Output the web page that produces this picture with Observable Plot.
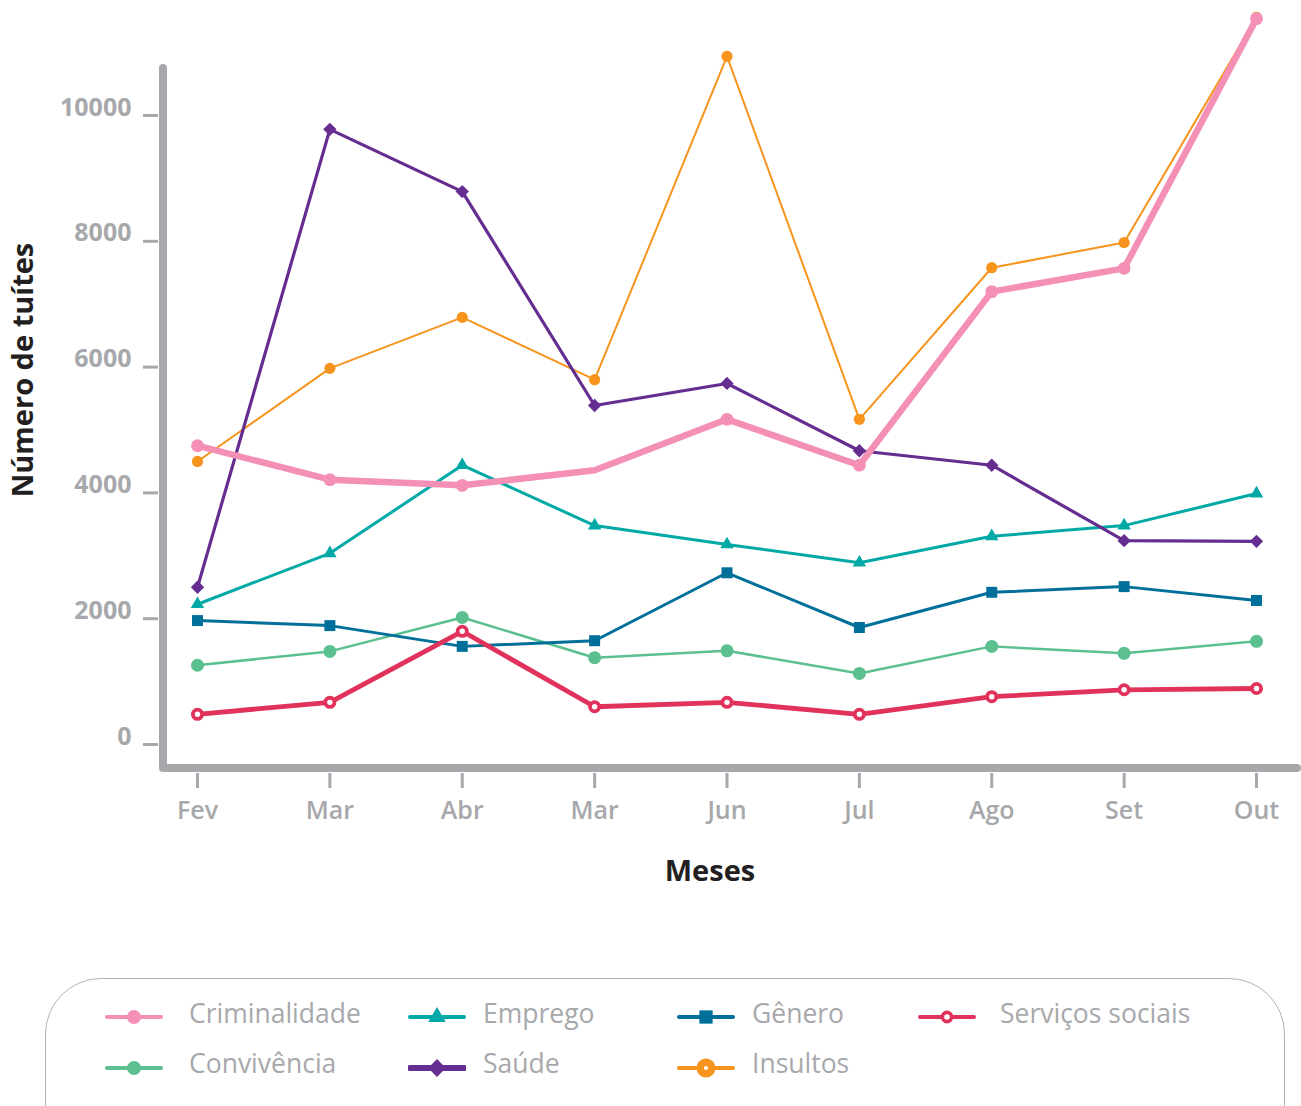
<!DOCTYPE html>
<html>
<head>
<meta charset="utf-8">
<script src="https://cdn.jsdelivr.net/npm/d3@7"></script>
<script src="https://cdn.jsdelivr.net/npm/@observablehq/plot@0.6"></script>
<style>
  body { margin: 0; background: #fff; font-family: "Open Sans", sans-serif; }
  #pagina { position: relative; width: 1301px; height: 1106px; overflow: hidden; }
  #legenda {
    position: absolute; left: 45px; top: 978px; width: 1240px; height: 200px;
    border: 1.5px solid #b3b3b5; border-radius: 56px; box-sizing: border-box;
  }
  .amostra, .rotulo { position: absolute; transform: translateY(-50%); }
  .amostra { display: block; }
  .rotulo { font-size: 26.5px; color: #a7a8ab; white-space: nowrap; line-height: 1.2; }
</style>
</head>
<body>
<div id="pagina"></div>
<script>
// Meses (há dois "Mar" na série original)
const meses = ["Fev", "Mar", "Abr", "Mar", "Jun", "Jul", "Ago", "Set", "Out"];

// Número de tuítes por tema
const criminalidade   = [4750, 4210, 4120, 4360, 5170, 4440, 7200, 7570, 11540];
const insultos        = [4500, 5980, 6790, 5800, 10940, 5170, 7580, 7980, 11560];
const saude           = [2500, 9780, 8790, 5390, 5740, 4670, 4440, 3240, 3230];
const emprego         = [2230, 3040, 4440, 3480, 3180, 2890, 3310, 3480, 3990];
const genero          = [1970, 1890, 1560, 1650, 2730, 1860, 2420, 2510, 2290];
const convivencia     = [1260, 1480, 2020, 1380, 1490, 1130, 1560, 1450, 1640];
const servicosSociais = [480, 670, 1800, 600, 670, 480, 760, 870, 890];

// Meses de Criminalidade sem marcador (apenas a linha)
const criminalidadeSemMarcador = [3];

const ticksY = [0, 2000, 4000, 6000, 8000, 10000];

// Estilo de cada série (ordem de desenho: de baixo para cima)
const series = [
  { nome: "Insultos",         valores: insultos,        cor: "#f7941d", simbolo: "circle",   linha: 2,   r: 5.6 },
  { nome: "Convivência",      valores: convivencia,     cor: "#5bbf8f", simbolo: "circle",   linha: 2.5, r: 6.5 },
  { nome: "Gênero",           valores: genero,          cor: "#00709b", simbolo: "square",   linha: 3,   r: 6.2 },
  { nome: "Emprego",          valores: emprego,         cor: "#00a9a5", simbolo: "triangle", linha: 3,   r: 5 },
  { nome: "Saúde",            valores: saude,           cor: "#662d91", simbolo: "diamond2", linha: 3.2, r: 6 },
  { nome: "Serviços sociais", valores: servicosSociais, cor: "#e0325a", simbolo: "circle",   linha: 4.8, r: 4.6, vazado: true },
  { nome: "Criminalidade",    valores: criminalidade,   cor: "#f48fb6", simbolo: "circle",   linha: 6.5, r: 6.4, pular: criminalidadeSemMarcador }
];

const cinza = "#a7a8ab";
const W = 1301, H = 900;
const mL = 163, mR = 4, mT = 68, mB = 132;

const marcas = [];
for (const s of series) {
  const dados = s.valores.map((v, i) => ({ i, v }));
  marcas.push(Plot.line(dados, {
    x: "i", y: "v", stroke: s.cor, strokeWidth: s.linha,
    strokeLinejoin: "round", strokeLinecap: "round"
  }));
  const pontos = dados.filter(d => !(s.pular || []).includes(d.i));
  marcas.push(Plot.dot(pontos, s.vazado
    ? { x: "i", y: "v", r: s.r, fill: "#fff", stroke: s.cor, strokeWidth: 3.8 }
    : { x: "i", y: "v", r: s.r, fill: s.cor, stroke: "none", symbol: s.simbolo }));
}

const indicesMeses = d3.range(meses.length);

const chart = Plot.plot({
  width: W, height: H,
  marginLeft: mL, marginRight: mR, marginTop: mT, marginBottom: mB,
  x: { domain: [0, 8], range: [197, 1256] },
  y: { domain: [0, 10000], range: [744, 115] },
  style: { fontFamily: "Open Sans, sans-serif", background: "#fff", overflow: "visible" },
  marks: [
    // marcas de escala do eixo y
    Plot.axisY(ticksY, { anchor: "left", label: null, tickSize: 15, dx: -5, stroke: cinza, strokeWidth: 3, tickFormat: () => "" }),
    // rótulos do eixo y
    Plot.axisY(ticksY, {
      anchor: "left", label: null, tickSize: 0, tickPadding: 27, dx: -5, dy: -8,
      color: cinza, fontSize: 25, fontWeight: 700, tickFormat: d => String(d)
    }),
    // marcas de escala do eixo x
    Plot.axisX(indicesMeses, { anchor: "bottom", label: null, tickSize: 15, dy: 5, stroke: cinza, strokeWidth: 3, tickFormat: () => "" }),
    // rótulos do eixo x
    Plot.axisX(indicesMeses, {
      anchor: "bottom", label: null, tickSize: 0, tickPadding: 33,
      color: cinza, fontSize: 25, fontWeight: 600, tickFormat: i => meses[i]
    }),
    ...marcas
  ]
});

// Linhas dos eixos (L cinza espessa)
const svg = d3.select(chart);
svg.append("path")
  .attr("d", `M${mL},${mT}V${H - mB}H${W - mR}`)
  .attr("fill", "none").attr("stroke", cinza).attr("stroke-width", 8)
  .attr("stroke-linecap", "round").attr("stroke-linejoin", "round");

// Títulos dos eixos
svg.append("text")
  .attr("x", 710).attr("y", 873).attr("text-anchor", "middle").attr("dominant-baseline", "middle")
  .attr("font-family", "Open Sans, sans-serif").attr("font-weight", 700).attr("font-size", 29)
  .attr("fill", "#231f20").text("Meses");
svg.append("text")
  .attr("transform", "translate(25,370) rotate(-90)")
  .attr("text-anchor", "middle").attr("dominant-baseline", "middle")
  .attr("font-family", "Open Sans, sans-serif").attr("font-weight", 700).attr("font-size", 29)
  .attr("fill", "#231f20").text("Número de tuítes");

const pagina = document.getElementById("pagina");
pagina.appendChild(chart);
chart.style.position = "absolute";
chart.style.left = "0px";
chart.style.top = "0px";

// Legenda: posição de cada amostra e de cada rótulo (coordenadas da página)
const ordemLegenda = [
  ["Criminalidade", 0, 0], ["Emprego", 1, 0], ["Gênero", 2, 0], ["Serviços sociais", 3, 0],
  ["Convivência", 0, 1], ["Saúde", 1, 1], ["Insultos", 2, 1]
];
const colunasAmostra = [105, 408, 677, 918];
const colunasRotulo = [189, 483, 752, 1000];
const linhasAmostra = [1017, 1068];
const linhasRotulo = [1014, 1064];
const estiloLeg = {
  "Criminalidade":    { forma: "circle",   r: 7,   linha: 4 },
  "Convivência":      { forma: "circle",   r: 7,   linha: 4 },
  "Emprego":          { forma: "triangle", r: 6.5, linha: 4 },
  "Saúde":            { forma: "diamond2", r: 8,   linha: 6 },
  "Gênero":           { forma: "square",   r: 7.5, linha: 4 },
  "Serviços sociais": { forma: "vazado",   r: 4.6, linha: 4 },
  "Insultos":         { forma: "insultos", r: 9.5, linha: 4 }
};
const simbolos = { circle: d3.symbolCircle, triangle: d3.symbolTriangle, diamond2: d3.symbolDiamond2, square: d3.symbolSquare };

const legenda = document.createElement("div");
legenda.id = "legenda";
pagina.appendChild(legenda);
for (const [nome, c, l] of ordemLegenda) {
  const s = series.find(d => d.nome === nome);
  const e = estiloLeg[nome];
  const sw = d3.create("svg").attr("class", "amostra").attr("width", 58).attr("height", 24)
    .style("left", colunasAmostra[c] + "px").style("top", linhasAmostra[l] + "px");
  sw.append("line").attr("x1", 2).attr("x2", 56).attr("y1", 12).attr("y2", 12)
    .attr("stroke", s.cor).attr("stroke-width", e.linha).attr("stroke-linecap", "round");
  if (e.forma === "vazado") {
    sw.append("circle").attr("cx", 29).attr("cy", 12).attr("r", e.r)
      .attr("fill", "#fff").attr("stroke", s.cor).attr("stroke-width", 3.6);
  } else if (e.forma === "insultos") {
    sw.append("circle").attr("cx", 29).attr("cy", 12).attr("r", e.r).attr("fill", s.cor);
    sw.append("circle").attr("cx", 29).attr("cy", 12).attr("r", 2).attr("fill", "#fff");
  } else {
    sw.append("path").attr("transform", "translate(29,12)")
      .attr("d", d3.symbol(simbolos[e.forma], Math.PI * e.r * e.r)()).attr("fill", s.cor);
  }
  pagina.appendChild(sw.node());
  const t = document.createElement("div");
  t.className = "rotulo";
  t.style.left = colunasRotulo[c] + "px";
  t.style.top = linhasRotulo[l] + "px";
  t.textContent = nome;
  pagina.appendChild(t);
}
</script>
</body>
</html>
